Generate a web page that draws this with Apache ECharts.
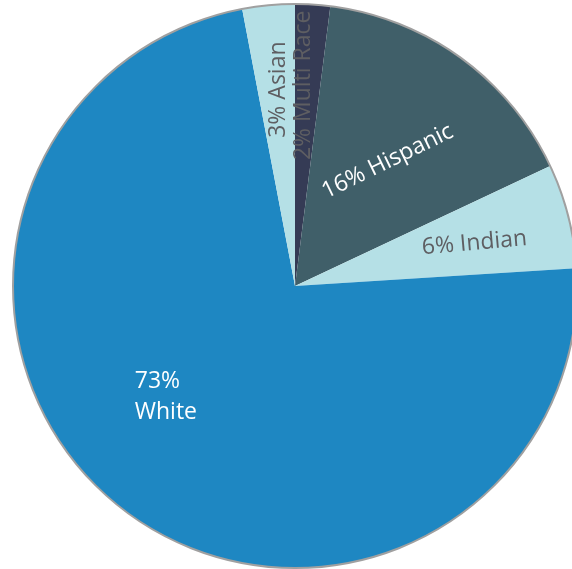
<!DOCTYPE html>
<html>
<head>
<meta charset="utf-8">
<script src="https://cdn.jsdelivr.net/npm/echarts@6/dist/echarts.min.js"></script>
<style>html,body{margin:0;padding:0;background:#fff}#c{width:572px;height:569px}</style>
</head>
<body>
<div id="c"></div>
<script>
const categories = ['Multi Race', 'Hispanic', 'Indian', 'White', 'Asian'];
const values = [2, 16, 6, 73, 3];
const labelTexts = ['{t|2% Multi Race}', '{t|16% Hispanic}', '{t|6% Indian}', '{w|73%}\n{w|White}', '{t|3% Asian}'];

const sliceColors = ['#353b55', '#405f69', '#b5e0e6', '#1e87c2', '#b5e0e6'];
const labelColors = ['#5e5e62', '#ffffff', '#5e5e62', '#ffffff', '#5e5e62'];
const labelRotate = [90, 26, 5, 0, 90];
// offsets are in the label's rotated frame
const labelOffset = [[57, -1], [10.7, -3.7], [40.5, -3.5], [-39, -3], [53, -3]];

const chart = echarts.init(document.getElementById('c'), null, {renderer: 'canvas'});
chart.setOption({
  animation: false,
  series: [{
    type: 'pie',
    center: [295, 286],
    radius: [0, 282],
    startAngle: 90,
    clockwise: true,
    silent: true,
    avoidLabelOverlap: false,
    labelLayout: {hideOverlap: false},
    data: categories.map((c, i) => ({
      name: c,
      value: values[i],
      itemStyle: {color: sliceColors[i], borderWidth: 0},
      label: {
        show: true,
        position: 'inside',
        formatter: labelTexts[i],
        rotate: labelRotate[i],
        offset: labelOffset[i],
        rich: {
          t: {color: labelColors[i], fontFamily: 'Open Sans', fontSize: 23},
          w: {color: labelColors[i], fontFamily: 'Open Sans', fontSize: 23, lineHeight: 31, width: 66, align: 'left'}
        }
      }
    })),
    labelLine: {show: false}
  }, {
    type: 'pie',
    center: [295, 286],
    radius: [0, 282],
    silent: true,
    label: {show: false},
    data: [{value: 1, name: 'outline', itemStyle: {color: 'rgba(0,0,0,0)', borderColor: '#a0a0a0', borderWidth: 2}}]
  }]
});
</script>
</body>
</html>
